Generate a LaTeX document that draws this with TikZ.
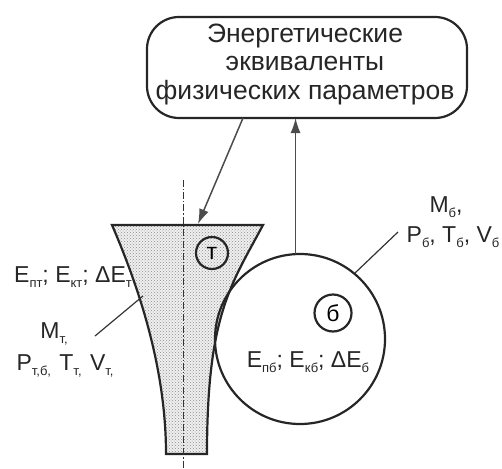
\documentclass[tikz,border=0pt]{standalone}
\usepackage{fontspec}
\setmainfont{Liberation Sans}
\usetikzlibrary{arrows.meta,patterns}
\newcommand\lsub[1]{\raisebox{-0.45ex}{\fontsize{13}{13}\selectfont #1}}
\begin{document}
\begin{tikzpicture}[x=1pt,y=-1pt,
  txt/.style={font=\fontsize{23}{28.5}\selectfont, text=black!85, inner sep=0, align=center},
  heavy/.style={line width=2.2pt, draw=black!85},
  arr/.style={draw=black!70, line width=1.5pt, -{Latex[length=15pt,width=10pt]}},
  leader/.style={draw=black!80, line width=1.2pt},
  axisline/.style={draw=black!80, line width=1pt, dash pattern=on 7pt off 2pt on 1.2pt off 2pt},
  ring/.style={circle, heavy, inner sep=0, outer sep=0, font=\fontsize{23}{23}\selectfont}]
\useasboundingbox (0,0) rectangle (502,468);
% box
\node[heavy, rounded corners=32pt, minimum width=320pt, minimum height=101pt, inner sep=0, outer sep=0] (box) at (307,67.5) {};
\node[txt, font=\fontsize{26.5}{28.5}\selectfont] (boxtext) at (305,64) {Энергетические\\эквиваленты\\физических параметров};
% trapezoid body
\draw[heavy, preaction={fill=gray!12}, pattern=crosshatch dots, pattern color=black!45]
  (112,225) -- (263,225) .. controls (231,285) and (207,315) .. (207,454)
  -- (166,454) .. controls (166,370) and (140,290) .. (112,225) -- cycle;
\draw[axisline] (183,180) -- (183,468);
\coordinate (ttop) at (198,224);
\coordinate (s1) at (243,118);
% circles
\node[ring, minimum size=170pt] (big) at (300,339) {};
\node[ring, minimum size=32pt] (t) at (212,253) {т};
\node[ring, minimum size=37pt] (b) at (333,313) {б};
% arrows
\draw[arr] (s1) -- (ttop);
\draw[arr] (big.93.4) -- (big.93.4 |- box.south);
% labels
\node[txt] (eb) at (308,362) {E\lsub{пб}; E\lsub{кб}; ΔE\lsub{б}};
\node[txt] (et) at (73,277) {E\lsub{пт}; E\lsub{кт}; ΔE\lsub{т}};
\node[txt, font=\fontsize{23}{32}\selectfont] (mt) at (65,350) {M\lsub{т,}\hspace*{22pt}\\P\lsub{т,б,}\hspace{2pt} T\lsub{т,}\hspace{2pt} V\lsub{т,}};
\node[txt, font=\fontsize{23}{30}\selectfont] (mb) at (453,222) {M\lsub{б},\hspace*{14pt}\\P\lsub{б}, T\lsub{б}, V\lsub{б}};
% leaders
\coordinate (lt) at (95,336);
\coordinate (lte) at (143,296);
\coordinate (lb) at (398,232);
\coordinate (lbe) at (355,273);
\draw[leader] (lt) -- (lte);
\draw[leader] (lbe) -- (lb);
\end{tikzpicture}
\end{document}
